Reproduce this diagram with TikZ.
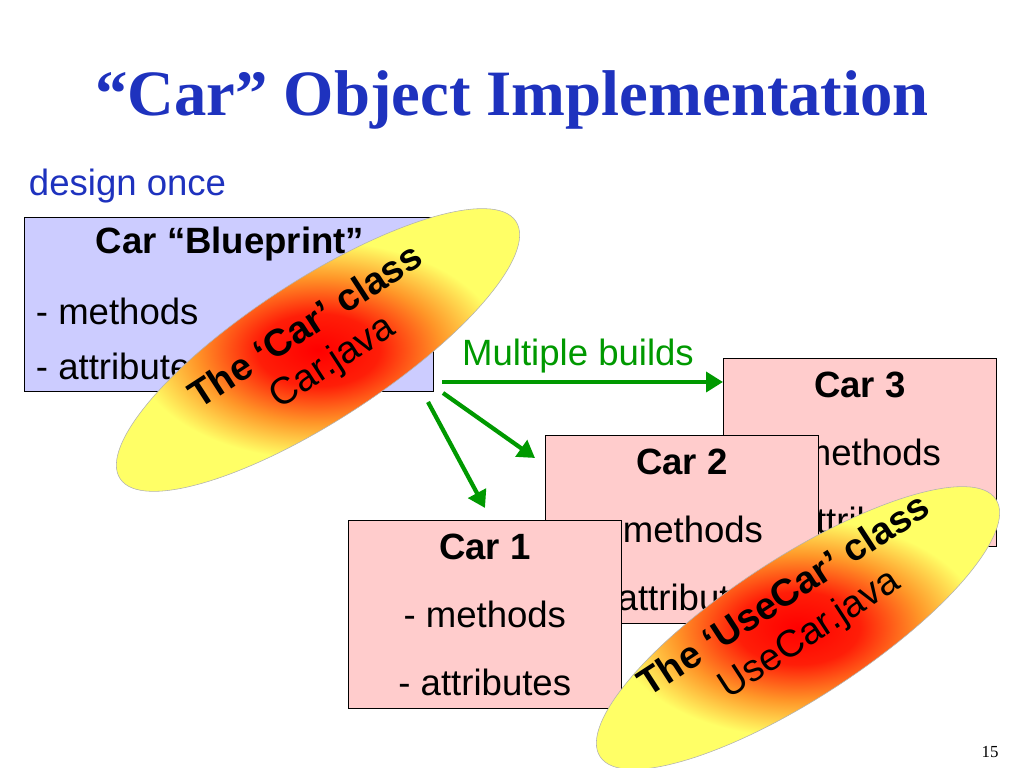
\documentclass[tikz,border=0pt]{standalone}
\usepackage{fontspec}
\setmainfont{Liberation Serif}
\setsansfont{Liberation Sans}
\usetikzlibrary{arrows.meta,calc}
\definecolor{titleblue}{RGB}{30,50,190}
\definecolor{bpfill}{RGB}{204,204,255}
\definecolor{carfill}{RGB}{255,204,204}
\definecolor{arrowgreen}{RGB}{0,153,0}
\definecolor{blobyellow}{RGB}{255,255,102}
\definecolor{bloborange}{RGB}{255,150,40}
\pgfdeclareradialshading{blobshade}{\pgfpoint{0bp}{0bp}}{color(0bp)=(red); color(7bp)=(red!80!bloborange); color(14bp)=(bloborange); color(21bp)=(blobyellow); color(25bp)=(blobyellow); color(50bp)=(blobyellow)}
\tikzset{
  box/.style={draw=black, thin, anchor=north west, inner sep=0pt},
  boxtext/.style={font=\sffamily\fontsize{26}{30}\selectfont},
  boldtext/.style={font=\sffamily\bfseries\fontsize{26}{30}\selectfont},
  buildarrow/.style={draw=arrowgreen, line width=3pt, -{Triangle[length=12pt,width=14pt]}},
  blob/.style={shading=blobshade, draw=gray!60},
  blobtext/.style={font=\sffamily\fontsize{27}{30}\selectfont, rotate=33}
}
\begin{document}
\begin{tikzpicture}[x=0.025cm, y=0.025cm]
  \useasboundingbox (0,0) rectangle (1024,768);
  % title
  \node[font=\bfseries\fontsize{46}{50}\selectfont, text=titleblue] (title) at (512,668) {“Car” Object Implementation};
  \node[boxtext, text=titleblue, anchor=west] (once) at (24,582) {design once};

  % blueprint
  \node[box, fill=bpfill, minimum width=409*0.025cm, minimum height=174*0.025cm] (bp) at (24,551) {};
  \node[boldtext] (bpname) at (230,524) {Car “Blueprint”};
  \node[boxtext, anchor=west] (bpm) at (31,457) {- methods};
  \node[boxtext, anchor=west] (bpa) at (31,402) {- attributes};

  % cars
  \foreach \n/\x/\y in {3/723/410, 2/545/333, 1/348/248} {
    \node[box, fill=carfill, minimum width=273*0.025cm, minimum height=188*0.025cm] (car\n) at (\x,\y) {};
    \node[boldtext] (car\n name) at ($(car\n.north)+(0,-27)$) {Car \n};
    \node[boxtext] (car\n m) at ($(car\n.north)+(0,-94)$) {- methods};
    \node[boxtext] (car\n a) at ($(car\n.north)+(0,-162)$) {- attributes};
  }

  % arrows
  \coordinate (from3) at (442,386);
  \coordinate (from2) at (443,375);
  \coordinate (from1) at (428,366);
  \draw[buildarrow] (from3) -- (car3.west |- from3);
  \draw[buildarrow] (from2) -- (535,310);
  \draw[buildarrow] (from1) -- (485,260);
  \node[boxtext, text=arrowgreen] (multi) at (578,412) {Multiple builds};

  % class blobs
  \shade[blob, rotate around={33:(318,418)}] (318,418) ellipse [x radius=5.9cm, y radius=1.75cm];
  \node[blobtext, font=\sffamily\bfseries\fontsize{27}{30}\selectfont] (carcls) at (305,443) {The ‘Car’ class};
  \node[blobtext] (carjava) at (333,405) {Car.java};

  \shade[blob, rotate around={33:(798,140)}] (798,140) ellipse [x radius=5.9cm, y radius=1.75cm];
  \node[blobtext, font=\sffamily\bfseries\fontsize{27}{30}\selectfont] (usecls) at (783,174) {The ‘UseCar’ class};
  \node[blobtext] (usejava) at (810,133) {UseCar.java};

  \node[font=\fontsize{12}{14}\selectfont] (page) at (990,16) {15};
\end{tikzpicture}
\end{document}
